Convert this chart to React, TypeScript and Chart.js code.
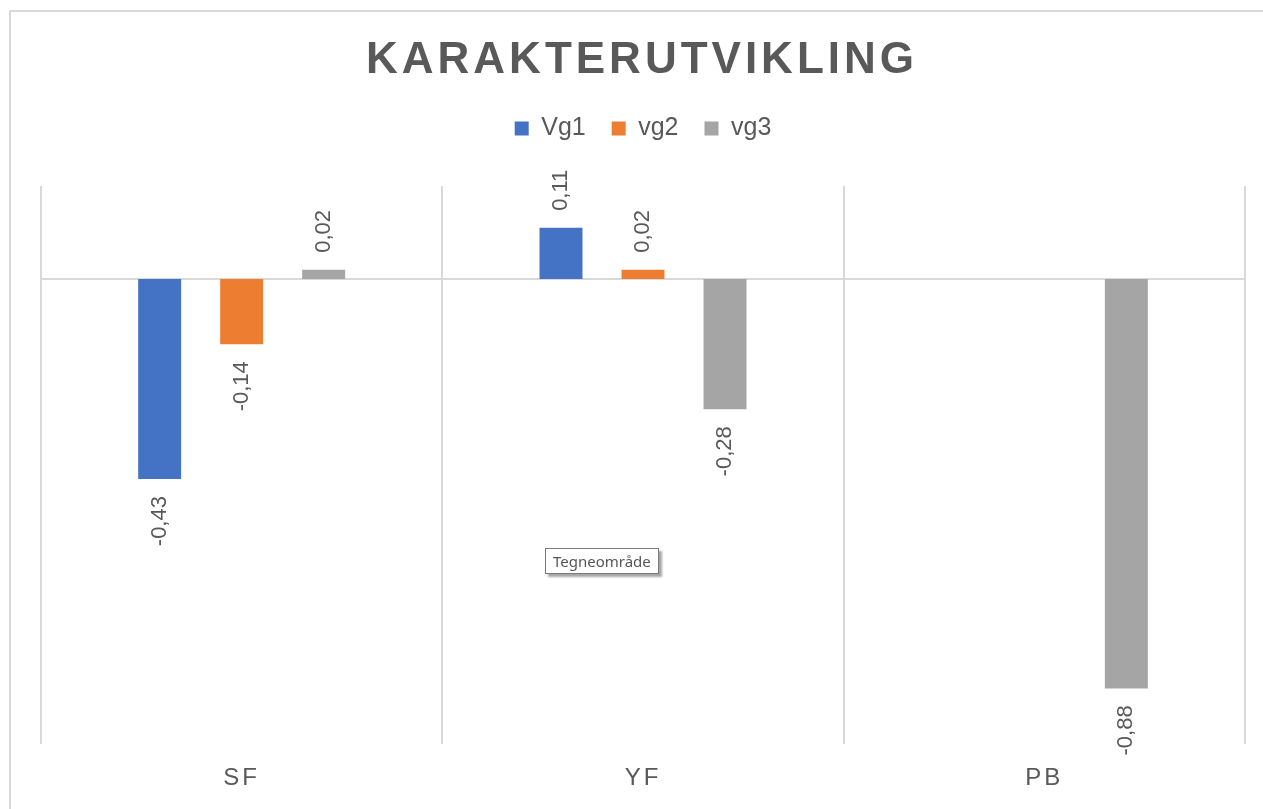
import React, { useEffect, useRef } from "react";
import { Chart, registerables } from "chart.js";

Chart.register(...registerables);

const categories = ["SF", "YF", "PB"];
const seriesNames = ["Vg1", "vg2", "vg3"];
const vg1Values = [-0.43, 0.11, null];
const vg2Values = [-0.14, 0.02, null];
const vg3Values = [0.02, -0.28, -0.88];
const seriesColors = ["#4472C4", "#ED7D31", "#A5A5A5"];
const titleText = "KARAKTERUTVIKLING";
const tooltipText = "Tegneområde";
const yMin = -1.0;
const yMax = 0.2;

const FONT = "'Liberation Sans', Arial, sans-serif";
const TEXT = "#595959";
const GRID = "#D9D9D9";

export default function App() {
  const ref = useRef<HTMLCanvasElement>(null);

  useEffect(() => {
    const canvas = ref.current!;
    const fmt = (v: number) => v.toFixed(2).replace(".", ",");

    const setupPlugin: any = {
      id: "setup",
      beforeInit(chart: any) {
        const legend = chart.legend;
        if (legend) {
          const origFit = legend.fit.bind(legend);
          legend.fit = function () {
            origFit();
            this.height += 35;
          };
          const origDraw = legend.draw.bind(legend);
          legend.draw = function () {
            const c = this.ctx;
            const prev = c.letterSpacing;
            c.letterSpacing = "0px";
            origDraw();
            c.letterSpacing = prev;
          };
        }
      },
      beforeDraw(chart: any) {
        chart.ctx.letterSpacing = "3px";
      },
      beforeDatasetsDraw(chart: any) {
        const c = chart.ctx;
        const { left, right } = chart.chartArea;
        const y = chart.scales.y.getPixelForValue(0);
        c.save();
        c.strokeStyle = GRID;
        c.lineWidth = 2;
        c.beginPath();
        c.moveTo(left, y);
        c.lineTo(right, y);
        c.stroke();
        c.restore();
      },
      afterDatasetsDraw(chart: any) {
        const c = chart.ctx;
        c.save();
        c.letterSpacing = "0px";
        c.font = `22px ${FONT}`;
        c.fillStyle = TEXT;
        c.textBaseline = "middle";
        chart.data.datasets.forEach((ds: any, i: number) => {
          const meta = chart.getDatasetMeta(i);
          meta.data.forEach((el: any, j: number) => {
            const v = ds.data[j];
            if (v == null) return;
            const off = 17;
            c.save();
            c.translate(el.x, el.y + (v >= 0 ? -off : off));
            c.rotate(-Math.PI / 2);
            c.textAlign = v >= 0 ? "left" : "right";
            c.fillText(fmt(v), 0, 0);
            c.restore();
          });
        });
        c.restore();
      },
      afterDraw(chart: any) {
        const c = chart.ctx;
        const { left, right } = chart.chartArea;
        c.save();
        c.letterSpacing = "4px";
        c.font = `bold 44px ${FONT}`;
        c.fillStyle = TEXT;
        c.textAlign = "center";
        c.textBaseline = "alphabetic";
        c.fillText(titleText, (left + right) / 2 - 1, 73);
        c.restore();
        c.letterSpacing = "0px";
      },
    };

    const datasetValues = [vg1Values, vg2Values, vg3Values];
    const chart = new Chart(canvas, {
      type: "bar",
      data: {
        labels: categories,
        datasets: seriesNames.map((name, i) => ({
          label: name,
          data: datasetValues[i],
          backgroundColor: seriesColors[i],
          borderWidth: 0,
          categoryPercentage: 0.613,
          barPercentage: 0.524,
        })),
      },
      options: {
        responsive: false,
        animation: false,
        devicePixelRatio: 1,
        layout: { padding: { left: 41, right: 18, top: 90, bottom: -4 } },
        plugins: {
          legend: {
            display: true,
            position: "top",
            labels: {
              boxWidth: 14,
              boxHeight: 14,
              padding: 26,
              color: TEXT,
              font: { size: 25, family: FONT },
            },
          },
          title: { display: false },
          tooltip: { enabled: false },
        },
        scales: {
          x: {
            grid: { offset: true, color: GRID, lineWidth: 2, drawTicks: false },
            border: { display: false },
            ticks: { color: TEXT, font: { size: 24, family: FONT }, padding: 20 },
          },
          y: { display: false, min: yMin, max: yMax },
        },
      },
      plugins: [setupPlugin],
    } as any);

    return () => chart.destroy();
  }, []);

  return (
    <div
      style={{
        position: "absolute",
        left: 0,
        top: 0,
        width: 1263,
        height: 809,
        overflow: "hidden",
        background: "#fff",
      }}
    >
      <div
        style={{
          position: "absolute",
          left: 9,
          top: 10,
          width: 1300,
          height: 850,
          borderLeft: `2px solid ${GRID}`,
          borderTop: `2px solid ${GRID}`,
        }}
      />
      <canvas
        ref={ref}
        width={1263}
        height={809}
        style={{ position: "absolute", left: 0, top: 0, width: 1263, height: 809 }}
      />
      <div
        style={{
          position: "absolute",
          left: 545,
          top: 548,
          height: 24,
          padding: "0 7px",
          border: "1px solid #7A7A7A",
          background: "#fff",
          boxShadow: "3px 3px 2px rgba(0,0,0,0.35)",
          fontFamily: "'Noto Sans', 'Open Sans', sans-serif",
          fontSize: 15,
          lineHeight: "24px",
          color: "#575757",
          whiteSpace: "nowrap",
        }}
      >
        {tooltipText}
      </div>
    </div>
  );
}
